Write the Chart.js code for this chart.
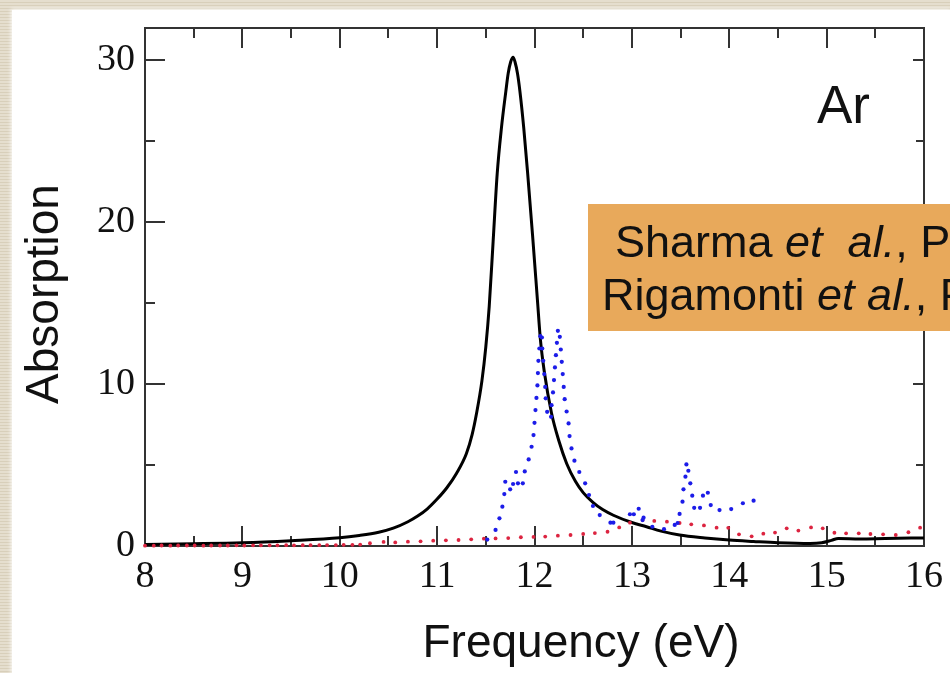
<!DOCTYPE html>
<html>
<head>
<meta charset="utf-8">
<script src="https://cdn.jsdelivr.net/npm/chart.js@4.4.1/dist/chart.umd.min.js"></script>
<style>
  html, body { margin: 0; padding: 0; width: 950px; height: 673px; overflow: hidden; }
  body {
    background: repeating-linear-gradient(to bottom, #e5dece 0px, #e5dece 2px, #d8cfba 2px, #d8cfba 3px);
  }
  #panel {
    position: absolute; left: 12px; top: 10px; width: 938px; height: 663px;
    background: #ffffff; box-shadow: 0 0 4px 1px rgba(255, 255, 255, 0.85);
  }
  #wrap { position: absolute; left: 0; top: 0; width: 950px; height: 673px; }
</style>
</head>
<body>
<div id="panel"></div>
<div id="wrap"><canvas id="c" width="950" height="673"></canvas></div>
<script>
// Theory curve (solid black)
const theoryX = [8.0, 8.5, 9.0, 9.5, 10.0, 10.2, 10.4, 10.55, 10.7, 10.8, 10.9, 11.0, 11.1, 11.2, 11.3,
  11.36, 11.405, 11.46, 11.5, 11.535, 11.575, 11.617, 11.66, 11.706, 11.73, 11.755, 11.78, 11.80, 11.825,
  11.85, 11.89, 11.93, 11.98, 12.03, 12.06, 12.1, 12.175, 12.25, 12.33, 12.42, 12.5, 12.6, 12.7, 12.81,
  13.0, 13.15, 13.3, 13.49, 13.75, 14.0, 14.25, 14.5, 14.83, 14.95, 15.05, 15.12, 15.34, 15.6, 16.0];
const theoryY = [0.1, 0.14, 0.2, 0.33, 0.51, 0.65, 0.85, 1.1, 1.5, 1.85, 2.3, 2.9, 3.6, 4.5, 5.7,
  6.9, 8.2, 10.2, 12.3, 14.8, 18.8, 23.0, 25.8, 28.1, 29.2, 29.9, 30.2, 29.9, 29.2,
  28.1, 25.8, 23.0, 19.2, 15.2, 12.8, 10.8, 8.2, 6.5, 5.1, 4.0, 3.3, 2.7, 2.25, 1.9,
  1.45, 1.19, 0.92, 0.68, 0.5, 0.37, 0.28, 0.2, 0.15, 0.2, 0.35, 0.47, 0.43, 0.46, 0.5];

// Experiment (blue dots)
const exptX = [11.515, 11.60, 11.64, 11.67, 11.69, 11.70, 11.75, 11.78, 11.81, 11.83, 11.88, 11.90, 11.94,
  11.97, 11.99, 12.00, 12.01, 12.02, 12.03, 12.035, 12.04, 12.05, 12.06, 12.076, 12.08, 12.09, 12.10,
  12.11, 12.115, 12.13, 12.17, 12.175, 12.19, 12.20, 12.21, 12.22, 12.23, 12.24, 12.26, 12.27, 12.28,
  12.29, 12.30, 12.31, 12.33, 12.35, 12.36, 12.38, 12.41, 12.46, 12.52, 12.56, 12.60, 12.67, 12.78,
  12.81, 12.98, 13.02, 13.07, 13.11, 13.12, 13.21, 13.33, 13.44, 13.47, 13.49, 13.52, 13.53, 13.55,
  13.56, 13.58, 13.60, 13.62, 13.64, 13.70, 13.73, 13.78, 13.81, 13.90, 14.02, 14.14, 14.25];
const exptY = [0.4, 0.99, 1.71, 2.43, 3.21, 3.97, 3.5, 3.83, 4.57, 3.87, 3.87, 4.61, 5.35,
  6.13, 6.85, 7.61, 8.4, 9.15, 9.92, 10.68, 11.44, 12.2, 12.96, 12.88, 12.2, 11.44, 10.62,
  9.83, 9.12, 8.29, 7.98, 8.70, 9.49, 10.25, 11.03, 11.79, 12.55, 13.29, 12.92, 12.14, 11.38,
  10.62, 9.83, 9.07, 8.31, 7.57, 6.79, 6.03, 5.27, 4.57, 3.87, 3.15, 2.47, 1.91, 1.44,
  1.44, 1.96, 1.96, 2.3, 1.6, 1.75, 1.19, 1.04, 1.30, 1.42, 1.98, 2.74, 3.5, 4.28,
  5.04, 4.65, 3.87, 3.11, 2.36, 2.36, 3.11, 3.29, 2.53, 2.22, 2.28, 2.64, 2.80];

// Earlier calculation (red dots)
const refX = [8.00, 8.09, 8.17, 8.26, 8.34, 8.43, 8.51, 8.60, 8.68, 8.77, 8.85, 8.94, 9.02, 9.11, 9.19,
  9.28, 9.36, 9.45, 9.53, 9.62, 9.70, 9.79, 9.87, 9.96, 10.04, 10.13, 10.21,
  10.31, 10.45, 10.57, 10.70, 10.83, 10.96, 11.09, 11.22, 11.35, 11.48, 11.60, 11.73, 11.86, 11.99,
  12.11, 12.24, 12.37, 12.50, 12.62, 12.75, 12.87, 12.98, 13.11, 13.23, 13.36, 13.49, 13.61, 13.74,
  13.87, 13.99, 14.10, 14.23, 14.35, 14.47, 14.59, 14.71, 14.84, 14.96, 15.08, 15.20, 15.33, 15.45,
  15.58, 15.71, 15.84, 15.96];
const refY = [0.02, 0.02, 0.03, 0.02, 0.03, 0.03, 0.03, 0.02, 0.03, 0.03, 0.03, 0.04, 0.03, 0.04, 0.04,
  0.04, 0.04, 0.05, 0.04, 0.05, 0.05, 0.05, 0.06, 0.06, 0.07, 0.07, 0.09,
  0.17, 0.25, 0.22, 0.27, 0.29, 0.33, 0.35, 0.37, 0.41, 0.45, 0.47, 0.49, 0.54, 0.56,
  0.58, 0.64, 0.68, 0.74, 0.80, 0.88, 1.15, 1.44, 1.6, 1.55, 1.5, 1.42, 1.34, 1.27,
  1.13, 1.12, 0.72, 0.6, 0.76, 0.83, 1.09, 0.95, 1.15, 1.09, 0.82, 0.78, 0.78, 0.74,
  0.72, 0.68, 0.85, 1.13];

// Axis ticks
const xTicks = [8, 9, 10, 11, 12, 13, 14, 15, 16];
const xMinorTicks = [8.5, 9.5, 10.5, 11.5, 12.5, 13.5, 14.5, 15.5];
const yTicks = [0, 10, 20, 30];
const yMinorTicks = [5, 15, 25];

const xTitle = 'Frequency (eV)';
const yTitle = 'Absorption';
const elementLabel = 'Ar';

const zip = (xs, ys) => xs.map((v, i) => ({ x: v, y: ys[i] }));

const SANS = '"Liberation Sans", Arial, Helvetica, sans-serif';
const SERIF = '"Liberation Serif", "Times New Roman", serif';

// Keep the plot box fixed: labels may overhang the chart area edges
const noOverhang = s => {
  s.paddingTop = 0; s.paddingBottom = 0; s.paddingLeft = 0; s.paddingRight = 0;
};

// Boxed frame with inward major/minor ticks on all four sides (drawn under the data)
const framePlugin = {
  id: 'frame',
  beforeDatasetsDraw(chart) {
    const { ctx, chartArea: a, scales: { x, y } } = chart;
    ctx.save();
    ctx.strokeStyle = '#333';
    ctx.lineWidth = 2;
    ctx.strokeRect(a.left, a.top, a.right - a.left, a.bottom - a.top);
    ctx.beginPath();
    xTicks.forEach(v => {
      const p = Math.round(x.getPixelForValue(v));
      ctx.moveTo(p, a.bottom); ctx.lineTo(p, a.bottom - 20);
      ctx.moveTo(p, a.top); ctx.lineTo(p, a.top + 20);
    });
    xMinorTicks.forEach(v => {
      const p = Math.round(x.getPixelForValue(v));
      ctx.moveTo(p, a.bottom); ctx.lineTo(p, a.bottom - 10);
      ctx.moveTo(p, a.top); ctx.lineTo(p, a.top + 10);
    });
    yTicks.forEach(v => {
      const p = Math.round(y.getPixelForValue(v));
      ctx.moveTo(a.left, p); ctx.lineTo(a.left + 20, p);
      ctx.moveTo(a.right, p); ctx.lineTo(a.right - 11, p);
    });
    yMinorTicks.forEach(v => {
      const p = Math.round(y.getPixelForValue(v));
      ctx.moveTo(a.left, p); ctx.lineTo(a.left + 10, p);
      ctx.moveTo(a.right, p); ctx.lineTo(a.right - 8, p);
    });
    ctx.stroke();
    ctx.restore();
  }
};

// Axis titles, element label and the citation box
const labelPlugin = {
  id: 'labels',
  afterDraw(chart) {
    const { ctx } = chart;
    ctx.save();
    ctx.fillStyle = '#111';

    ctx.font = '46px ' + SANS;
    ctx.textAlign = 'center';
    ctx.textBaseline = 'alphabetic';
    ctx.fillText(xTitle, 581, 657);

    ctx.save();
    ctx.translate(58, 294);
    ctx.rotate(-Math.PI / 2);
    ctx.fillText(yTitle, 0, 0);
    ctx.restore();

    ctx.textAlign = 'left';
    ctx.font = '53px ' + SANS;
    ctx.fillText(elementLabel, 817, 123);

    // citation box
    ctx.fillStyle = '#e8a95b';
    ctx.fillRect(588, 204, 950 - 588, 127);
    ctx.fillStyle = '#111';
    const runs = (parts, x0, base) => {
      let xx = x0;
      parts.forEach(([t, it]) => {
        ctx.font = (it ? 'italic ' : '') + '45px ' + SANS;
        ctx.fillText(t, xx, base);
        xx += ctx.measureText(t).width;
      });
    };
    runs([['Sharma ', false], ['et  al.', true], [', P', false]], 615, 257);
    runs([['Rigamonti ', false], ['et al.', true], [', P', false]], 602, 310);
    ctx.restore();
  }
};

new Chart(document.getElementById('c'), {
  type: 'scatter',
  data: {
    datasets: [
      {
        label: 'Experiment',
        data: zip(exptX, exptY),
        showLine: false,
        pointRadius: 2.1,
        pointBorderWidth: 0,
        pointBackgroundColor: '#1c1ce8',
        clip: 4,
        order: 1
      },
      {
        label: 'Earlier calculation',
        data: zip(refX, refY),
        showLine: false,
        pointRadius: 1.9,
        pointBorderWidth: 0,
        pointBackgroundColor: '#dc2440',
        clip: 4,
        order: 2
      },
      {
        label: 'Theory',
        data: zip(theoryX, theoryY),
        showLine: true,
        borderColor: '#000',
        borderWidth: 3,
        pointRadius: 0,
        cubicInterpolationMode: 'monotone',
        clip: 2,
        order: 3
      }
    ]
  },
  options: {
    responsive: false,
    animation: false,
    devicePixelRatio: 1,
    layout: { padding: { top: 28, right: 26, left: 0, bottom: 0 } },
    plugins: { legend: { display: false }, tooltip: { enabled: false } },
    scales: {
      x: {
        type: 'linear', min: 8, max: 16,
        grid: { display: false, drawTicks: false },
        border: { display: false },
        afterBuildTicks: s => { s.ticks = xTicks.map(v => ({ value: v })); },
        afterFit: s => { s.height = 127; noOverhang(s); },
        ticks: {
          font: { family: SERIF, size: 38 }, color: '#111',
          padding: 8, maxRotation: 0, autoSkip: false,
          callback: v => String(v)
        }
      },
      y: {
        type: 'linear', min: 0, max: 32,
        grid: { display: false, drawTicks: false },
        border: { display: false },
        afterBuildTicks: s => { s.ticks = yTicks.map(v => ({ value: v })); },
        afterFit: s => { s.width = 145; noOverhang(s); },
        ticks: {
          font: { family: SERIF, size: 38 }, color: '#111',
          padding: 10, autoSkip: false,
          callback: v => String(v)
        }
      }
    }
  },
  plugins: [framePlugin, labelPlugin]
});
</script>
</body>
</html>
